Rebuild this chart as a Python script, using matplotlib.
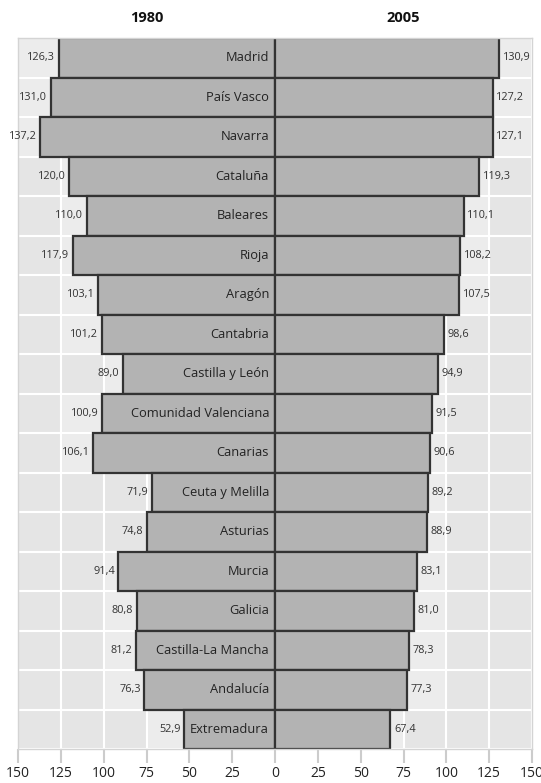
import numpy as np
import matplotlib
matplotlib.use("Agg")
import matplotlib.pyplot as plt
from matplotlib import font_manager as fm

regions = ["Madrid", "País Vasco", "Navarra", "Cataluña", "Baleares", "Rioja",
           "Aragón", "Cantabria", "Castilla y León", "Comunidad Valenciana",
           "Canarias", "Ceuta y Melilla", "Asturias", "Murcia", "Galicia",
           "Castilla-La Mancha", "Andalucía", "Extremadura"]
v1980 = [126.3, 131.0, 137.2, 120.0, 110.0, 117.9, 103.1, 101.2, 89.0, 100.9,
         106.1, 71.9, 74.8, 91.4, 80.8, 81.2, 76.3, 52.9]
v2005 = [130.9, 127.2, 127.1, 119.3, 110.1, 108.2, 107.5, 98.6, 94.9, 91.5,
         90.6, 89.2, 88.9, 83.1, 81.0, 78.3, 77.3, 67.4]
ticks = [-150, -125, -100, -75, -50, -25, 0, 25, 50, 75, 100, 125, 150]
titles = ["1980", "2005"]

avail = {f.name for f in fm.fontManager.ttflist}
fam = next((f for f in ["Liberation Sans Narrow", "Open Sans", "DejaVu Sans"] if f in avail), "DejaVu Sans")
plt.rcParams['font.family'] = [fam, 'DejaVu Sans']

fig = plt.figure(figsize=(5.41, 7.83), dpi=100)
ax = fig.add_axes([18/541, 1-749/783, (532-18)/541, (749-38)/783])
ax.set_facecolor('#e5e5e5')

n = len(regions)
y = np.arange(n)
a = np.array(v1980)
b = np.array(v2005)

# lighter zone from bar end to next gridline
na = np.ceil(a/25)*25
nb = np.ceil(b/25)*25
ax.barh(y, -(na-a), left=-a, height=1.0, color='#ececec', edgecolor='none', zorder=0.5)
ax.barh(y, nb-b, left=b, height=1.0, color='#ececec', edgecolor='none', zorder=0.5)

for t in ticks:
    ax.axvline(t, color='white', lw=1.5, zorder=0.8)
for k in range(n+1):
    ax.axhline(k-0.5, color='white', lw=1.5, zorder=0.8)

ax.barh(y, -a, height=1.0, color='#b3b3b3', edgecolor='#333333', lw=1.6, zorder=2)
ax.barh(y, b, height=1.0, color='#b3b3b3', edgecolor='#333333', lw=1.6, zorder=2)

for i in range(n):
    ax.text(-3.5, y[i], regions[i], ha='right', va='center', fontsize=9.3, color='#222222', zorder=3)
    ax.text(-a[i]-2, y[i], f"{a[i]:.1f}".replace('.', ','), ha='right', va='center',
            fontsize=7.8, color='#333333', zorder=3)
    ax.text(b[i]+2, y[i], f"{b[i]:.1f}".replace('.', ','), ha='left', va='center',
            fontsize=7.8, color='#333333', zorder=3)

ax.set_xlim(-150, 150)
ax.set_ylim(n-0.5, -0.5)
ax.set_xticks(ticks)
ax.set_xticklabels([str(abs(t)) for t in ticks], fontsize=10, color='#222222')
ax.set_yticks([])
ax.tick_params(axis='x', length=10, width=1.5, color='#cccccc', pad=2.5)
for s in ax.spines.values():
    s.set_color('#d4d4d4')
    s.set_linewidth(1)

ax.text(0.25, 1.028, titles[0], transform=ax.transAxes, ha='center', va='center',
        fontsize=10.5, fontweight='bold', color='#111111')
ax.text(0.75, 1.028, titles[1], transform=ax.transAxes, ha='center', va='center',
        fontsize=10.5, fontweight='bold', color='#111111')

fig.savefig("out.png", dpi=100, facecolor='white')
